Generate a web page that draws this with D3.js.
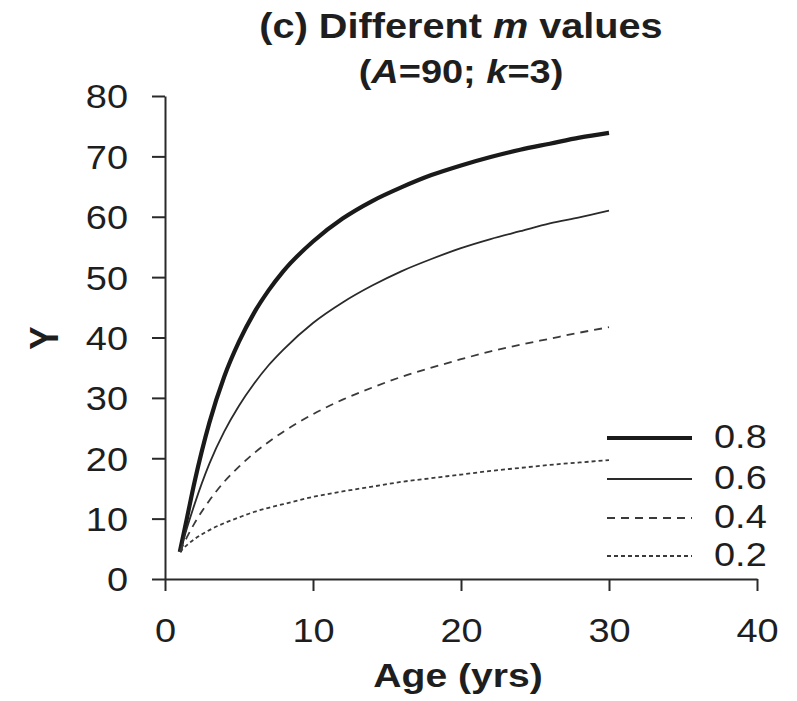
<!DOCTYPE html>
<html><head><meta charset="utf-8">
<script src="https://cdn.jsdelivr.net/npm/d3@7"></script>
<style>
body{margin:0;background:#fff}
svg{display:block}
text{font-family:Arial,"Liberation Sans",sans-serif;fill:#1e1e1e}
</style>
</head><body>
<svg id="chart" width="797" height="701"></svg>
<script>
// ---- data ----
const ages = [1,1.5,2,3,4,5,6,7,8,10,12,14,16,18,20,22,24,26,28,30];
const yM08 = [4.48,10.3,16.1,25.9,33.5,39.3,44.0,47.8,51.0,55.9,59.7,62.6,64.9,66.9,68.5,69.9,71.1,72.1,73.1,73.9];
const yM06 = [4.48,8.57,12.4,19.1,24.4,28.7,32.3,35.4,38.0,42.4,45.8,48.6,51.0,53.0,54.8,56.3,57.6,58.9,59.9,61.0];
const yM04 = [4.48,7.02,9.26,13.0,16.1,18.6,20.8,22.7,24.4,27.3,29.7,31.7,33.5,35.0,36.4,37.7,38.8,39.8,40.8,41.7];
const yM02 = [4.48,5.66,6.61,8.10,9.26,10.2,11.1,11.8,12.4,13.6,14.5,15.3,16.1,16.7,17.3,17.9,18.4,18.9,19.3,19.7];
const seriesLabels = ["0.8","0.6","0.4","0.2"];
const xTicks = [0,10,20,30,40];
const yTicks = [0,10,20,30,40,50,60,70,80];

// ---- styles ----
const seriesValues = [yM08, yM06, yM04, yM02];
const widths = [4.2, 1.8, 1.8, 1.8];
const dashes = [null, null, "8,6", "4,3"];
const colors = ["#1a1a1a", "#2a2a2a", "#3a3a3a", "#3a3a3a"];
const SX = 1.15; // horizontal text stretch

const svg = d3.select("#chart");
const x = d3.scaleLinear().domain([0, 40]).range([165, 757]);
const y = d3.scaleLinear().domain([0, 80]).range([579, 96]);

// axes
const yAxis = svg.append("g").attr("transform", `translate(${x(0)},0)`)
  .call(d3.axisLeft(y).tickValues(yTicks).tickSize(13).tickSizeOuter(0).tickFormat(d3.format("d")));
yAxis.selectAll("text").attr("x", -37 / SX).attr("dy", "0.36em")
  .attr("transform", `scale(${SX},1)`).style("font-size", "33px");

const xAxis = svg.append("g").attr("transform", `translate(0,${y(0)})`)
  .call(d3.axisBottom(x).tickValues(xTicks).tickSize(12).tickSizeOuter(0).tickFormat(d3.format("d")));
xAxis.selectAll("text").attr("y", 40).attr("dy", "0.71em")
  .attr("transform", `scale(${SX},1)`).style("font-size", "33px");

svg.selectAll(".domain, .tick line").attr("stroke", "#2a2a2a").attr("stroke-width", 2);
svg.selectAll(".tick text").attr("fill", "#1e1e1e");

// lines
const line = d3.line().x((d, i) => x(ages[i])).y(d => y(d)).curve(d3.curveMonotoneX);
seriesValues.forEach((vals, i) => {
  svg.append("path").datum(vals).attr("d", line)
    .attr("fill", "none").attr("stroke", colors[i]).attr("stroke-width", widths[i])
    .attr("stroke-dasharray", dashes[i]).attr("stroke-linecap", "butt");
});

// legend
const legendY = [438, 479, 518, 556];
seriesLabels.forEach((lab, i) => {
  svg.append("line").attr("x1", 607).attr("x2", 692).attr("y1", legendY[i]).attr("y2", legendY[i])
    .attr("stroke", colors[i]).attr("stroke-width", widths[i]).attr("stroke-dasharray", dashes[i]);
  svg.append("text").attr("transform", `translate(714,${legendY[i]}) scale(${SX},1)`)
    .attr("dy", "0.3em").style("font-size", "33px").text(lab);
});

// titles
const t1 = svg.append("text").attr("transform", `translate(461,38) scale(${SX},1)`)
  .attr("text-anchor", "middle").style("font-size", "34.5px").style("font-weight", "bold");
t1.append("tspan").text("(c) Different ");
t1.append("tspan").style("font-style", "italic").text("m");
t1.append("tspan").text(" values");

const t2 = svg.append("text").attr("transform", `translate(461,83) scale(${SX},1)`)
  .attr("text-anchor", "middle").style("font-size", "33px").style("font-weight", "bold");
t2.append("tspan").text("(");
t2.append("tspan").style("font-style", "italic").text("A");
t2.append("tspan").text("=90; ");
t2.append("tspan").style("font-style", "italic").text("k");
t2.append("tspan").text("=3)");

svg.append("text").attr("transform", `translate(458,687) scale(${SX},1)`)
  .attr("text-anchor", "middle").style("font-size", "34px").style("font-weight", "bold").text("Age (yrs)");

svg.append("text").attr("transform", `translate(58,338) scale(${SX},1) rotate(-90)`)
  .attr("text-anchor", "middle").style("font-size", "35px").style("font-weight", "bold").text("Y");
</script>
</body></html>
